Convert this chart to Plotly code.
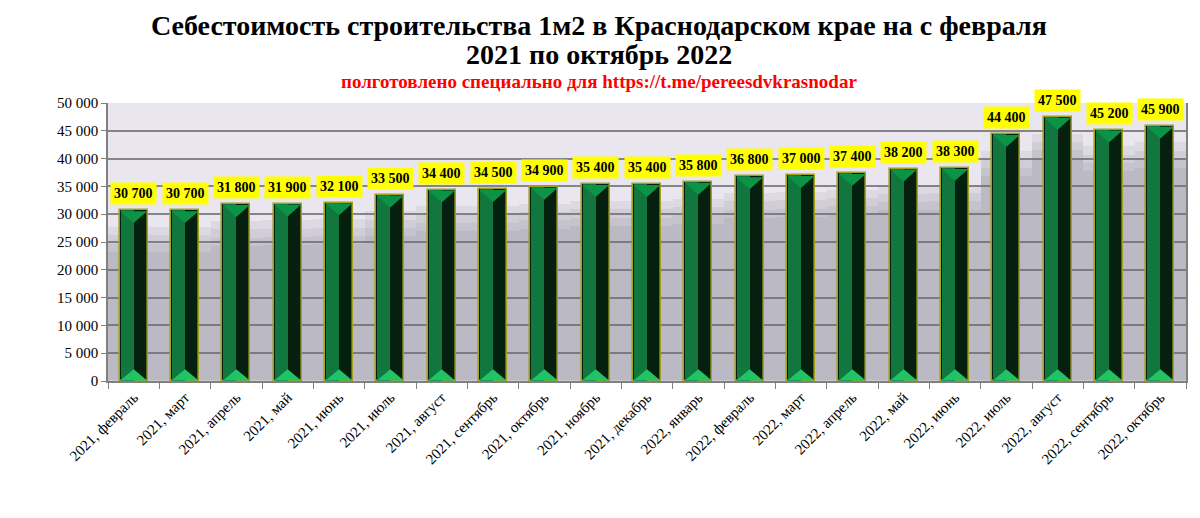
import plotly.graph_objects as go

months_2021 = ["февраль", "март", "апрель", "май", "июнь", "июль", "август",
               "сентябрь", "октябрь", "ноябрь", "декабрь"]
months_2022 = ["январь", "февраль", "март", "апрель", "май", "июнь", "июль",
               "август", "сентябрь", "октябрь"]
categories = [f"2021, {m}" for m in months_2021] + [f"2022, {m}" for m in months_2022]
values = [30700, 30700, 31800, 31900, 32100, 33500, 34400, 34500, 34900, 35400,
          35400, 35800, 36800, 37000, 37400, 38200, 38300, 44400, 47500, 45200, 45900]

title_line1 = "Себестоимость строительства 1м2 в Краснодарском крае на с февраля"
title_line2 = "2021 по октябрь 2022"
subtitle_text = "полготовлено специально для https://t.me/pereesdvkrasnodar"

SERIF = "Liberation Serif"
BAR_W = 0.545
TOP_D = 2300
BOT_D = 2100
n = len(categories)
idx = list(range(n))

fig = go.Figure()

# soft shadow behind bars
for dv in [3000, 4500, 6000, 7500]:
    fig.add_trace(go.Bar(
        x=categories, y=[v - dv for v in values], width=1.0,
        marker=dict(color="rgba(110,105,120,0.10)", line=dict(width=0)),
        hoverinfo="skip", showlegend=False))

# dark right face (full bar with outline)
fig.add_trace(go.Bar(
    x=categories, y=values, width=BAR_W,
    marker=dict(color="#05200f", line=dict(color="#a3a01c", width=1.6)),
    showlegend=False))
# lighter left face
fig.add_trace(go.Bar(
    x=categories, y=values, width=BAR_W / 2 - 0.02, offset=-BAR_W / 2 + 0.02,
    marker=dict(color="#11773e", line=dict(width=0)),
    hoverinfo="skip", showlegend=False))

# bevel triangles (top and bottom) on an overlaying numeric axis
tx, ty, bx, by = [], [], [], []
hw = BAR_W / 2 - 0.01
for i, v in zip(idx, values):
    tx += [i - hw, i + hw, i, i - hw, None]
    ty += [v - 150, v - 150, v - TOP_D, v - 150, None]
    bx += [i - hw, i + hw, i, i - hw, None]
    by += [100, 100, BOT_D, 100, None]
fig.add_trace(go.Scatter(x=tx, y=ty, xaxis="x2", mode="lines", fill="toself",
                         fillcolor="#0c9446", line=dict(width=0),
                         hoverinfo="skip", showlegend=False))
fig.add_trace(go.Scatter(x=bx, y=by, xaxis="x2", mode="lines", fill="toself",
                         fillcolor="#22c267", line=dict(width=0),
                         hoverinfo="skip", showlegend=False))

# value labels
for c, v in zip(categories, values):
    fig.add_annotation(x=c, y=v, text=f"{v:,}".replace(",", " "),
                       showarrow=False, yanchor="bottom", yshift=5,
                       bgcolor="#ffff00", borderpad=3,
                       font=dict(family=SERIF, size=14, color="black", weight="bold"))

# titles (page body has 8px margin; figure is 1184x502)
PLOT_TOP, PLOT_H = 95, 278
def py(yfig):
    return 1 + (PLOT_TOP - yfig) / PLOT_H

TX = 0.4556
fig.add_annotation(xref="paper", yref="paper", x=TX, y=py(18), yanchor="middle",
                   showarrow=False, text=title_line1,
                   font=dict(family=SERIF, size=28, color="black", weight="bold"))
fig.add_annotation(xref="paper", yref="paper", x=TX, y=py(47), yanchor="middle",
                   showarrow=False, text=title_line2,
                   font=dict(family=SERIF, size=28, color="black", weight="bold"))
fig.add_annotation(xref="paper", yref="paper", x=TX, y=py(73), yanchor="middle",
                   showarrow=False, text=subtitle_text,
                   font=dict(family=SERIF, size=19, color="#ff0000", weight="bold"))

fig.update_layout(
    width=1184, height=502,
    margin=dict(l=100, r=4, t=95, b=129),
    paper_bgcolor="white", plot_bgcolor="#e9e6f0",
    barmode="overlay", bargap=0,
    separators=", ",
    xaxis=dict(type="category", range=[-0.5, n - 0.5], tickangle=-45,
               tickson="boundaries", ticks="outside", ticklen=6, tickcolor="#808080",
               showline=True, linecolor="#808080", linewidth=1.5, showgrid=False,
               tickfont=dict(family=SERIF, size=15, color="black")),
    xaxis2=dict(overlaying="x", range=[-0.5, n - 0.5], visible=False),
    yaxis=dict(range=[0, 50000], dtick=5000, tickformat=",d",
               ticks="outside", ticklen=5, tickcolor="#808080",
               showline=True, mirror=True, linecolor="#808080", linewidth=1.5,
               gridcolor="#858585", gridwidth=1.5,
               tickfont=dict(family=SERIF, size=15, color="black")),
)

fig.write_html("out.html")
